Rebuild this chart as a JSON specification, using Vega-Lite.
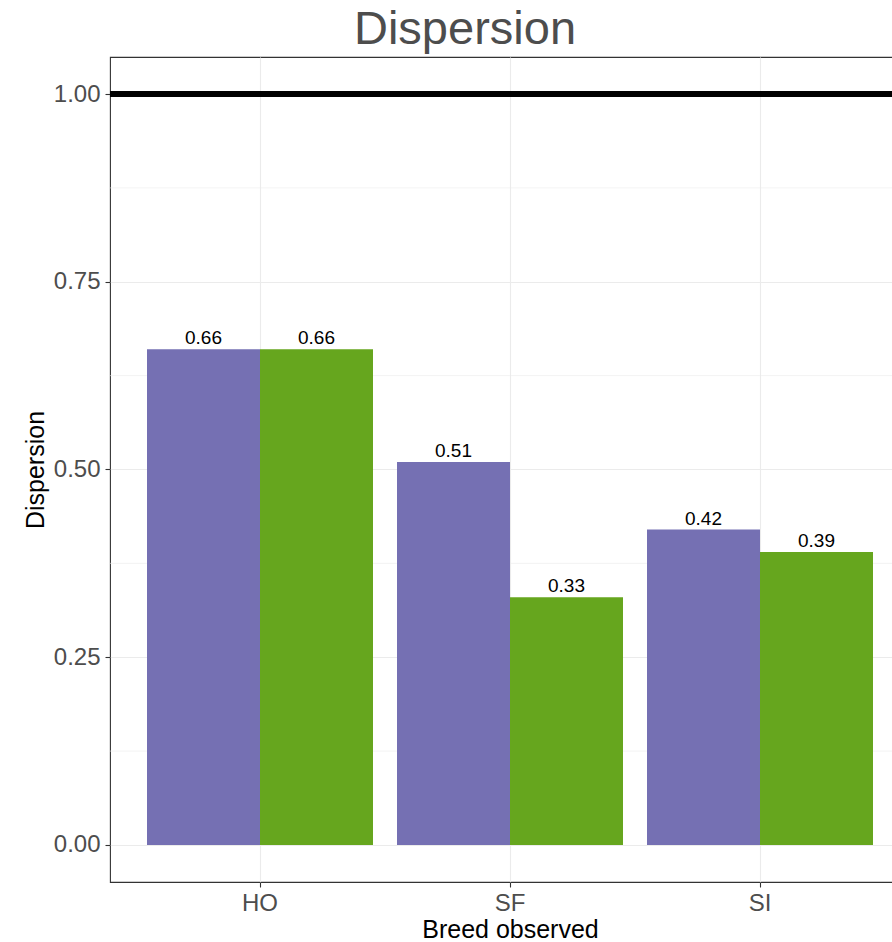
{
  "$schema": "https://vega.github.io/schema/vega-lite/v6.json",
  "autosize": {"type": "none"},
  "width": 800,
  "height": 825,
  "padding": {"left": 110, "top": 57, "right": 0, "bottom": 60},
  "background": "white",
  "title": {
    "text": "Dispersion",
    "font": "Liberation Sans",
    "fontSize": 47,
    "fontWeight": "normal",
    "color": "#4D4D4D",
    "anchor": "middle",
    "baseline": "alphabetic",
    "dx": -45,
    "dy": 48,
    "offset": 14
  },
  "datasets": {
    "bars": [
      {"Breed": "HO", "Group": "Series 1", "Value": 0.66},
      {"Breed": "HO", "Group": "Series 2", "Value": 0.66},
      {"Breed": "SF", "Group": "Series 1", "Value": 0.51},
      {"Breed": "SF", "Group": "Series 2", "Value": 0.33},
      {"Breed": "SI", "Group": "Series 1", "Value": 0.42},
      {"Breed": "SI", "Group": "Series 2", "Value": 0.39}
    ],
    "minor": [
      {"Value": 0.125},
      {"Value": 0.375},
      {"Value": 0.625},
      {"Value": 0.875}
    ],
    "ref": [
      {"Value": 1}
    ]
  },
  "config": {
    "view": {"stroke": "#333333", "strokeWidth": 1.1},
    "font": "Liberation Sans",
    "axis": {
      "domain": false,
      "grid": true,
      "gridColor": "#EBEBEB",
      "gridWidth": 1.1,
      "tickColor": "#333333",
      "tickWidth": 1.1,
      "tickSize": 5,
      "labelColor": "#4D4D4D",
      "labelFont": "Liberation Sans",
      "labelFontSize": 24,
      "titleColor": "#000000",
      "titleFont": "Liberation Sans",
      "titleFontSize": 25,
      "titleFontWeight": "normal"
    }
  },
  "layer": [
    {
      "data": {"name": "minor"},
      "mark": {"type": "rule", "color": "#EBEBEB", "strokeWidth": 0.6},
      "encoding": {
        "y": {
          "field": "Value",
          "type": "quantitative",
          "scale": {"domain": [-0.0493, 1.0493], "nice": false, "zero": false},
          "axis": {"title": "Dispersion", "values": [0, 0.25, 0.5, 0.75, 1], "format": ".2f", "labelPadding": 5, "titlePadding": 5}
        }
      }
    },
    {
      "data": {"name": "bars"},
      "mark": {"type": "bar"},
      "encoding": {
        "x": {
          "field": "Breed",
          "type": "nominal",
          "scale": {"paddingInner": 0, "paddingOuter": 0.1},
          "axis": {"title": "Breed observed", "labelAngle": 0, "bandPosition": 0.5, "labelPadding": 4, "titlePadding": 2}
        },
        "xOffset": {
          "field": "Group",
          "type": "nominal",
          "scale": {"paddingInner": 0, "paddingOuter": 0.1062}
        },
        "y": {
          "field": "Value",
          "type": "quantitative",
          "scale": {"domain": [-0.0493, 1.0493], "nice": false, "zero": false},
          "axis": {"title": "Dispersion", "values": [0, 0.25, 0.5, 0.75, 1], "format": ".2f", "labelPadding": 5, "titlePadding": 5}
        },
        "y2": {"datum": 0},
        "color": {
          "field": "Group",
          "type": "nominal",
          "scale": {"domain": ["Series 1", "Series 2"], "range": ["#7570B3", "#66A61E"]},
          "legend": null
        }
      }
    },
    {
      "data": {"name": "bars"},
      "mark": {"type": "text", "baseline": "alphabetic", "dy": -5, "fontSize": 19, "font": "Liberation Sans", "color": "#000000"},
      "encoding": {
        "x": {"field": "Breed", "type": "nominal"},
        "xOffset": {"field": "Group", "type": "nominal"},
        "y": {"field": "Value", "type": "quantitative"},
        "text": {"field": "Value", "type": "quantitative", "format": ".2f"}
      }
    },
    {
      "data": {"name": "ref"},
      "mark": {"type": "rule", "color": "#000000", "strokeWidth": 6},
      "encoding": {
        "y": {"field": "Value", "type": "quantitative"}
      }
    }
  ]
}
